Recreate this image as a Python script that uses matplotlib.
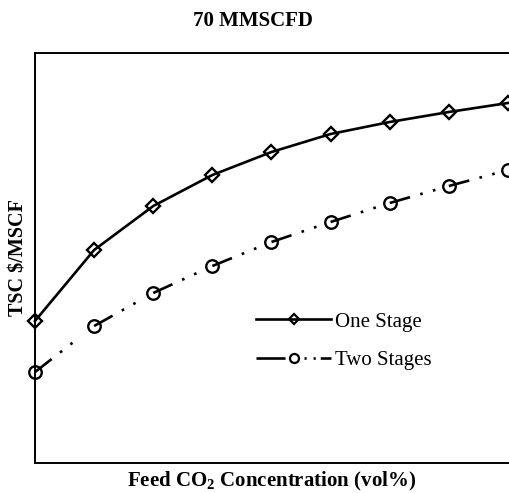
import matplotlib
matplotlib.use("Agg")
import matplotlib.pyplot as plt
from matplotlib.lines import Line2D

plt.rcParams['font.family'] = 'Liberation Serif'
plt.rcParams['mathtext.fontset'] = 'custom'
plt.rcParams['mathtext.rm'] = 'Liberation Serif'
plt.rcParams['mathtext.bf'] = 'Liberation Serif:bold'

# feed CO2 steps (no tick labels in the original) and TSC values (arbitrary units)
feed = [0, 1, 2, 3, 4, 5, 6, 7, 8]
one_stage = [142, 213, 257, 288, 311, 329, 341, 351, 360]
two_stages = [91, 137, 170, 197, 221, 241, 260, 277, 293]

fig = plt.figure(figsize=(5.10, 4.93), dpi=100)
ax = fig.add_axes([35 / 510, 30 / 493, 480 / 510, 410 / 493])

lw = 1.9
ax.plot(feed, one_stage, '-', color='black', lw=lw, marker='D', ms=7.5,
        mfc='none', mew=1.7, clip_on=False, zorder=3)

# dash-dot-dot pattern restarts at every marker, so draw segment by segment
dd = (8, 4, 1, 4, 1, 40)
for i in range(len(feed) - 1):
    ax.plot(feed[i:i + 2], two_stages[i:i + 2], color='black', lw=lw,
            dashes=dd, clip_on=False, zorder=3)
ax.plot(feed, two_stages, 'o', color='black', ms=9, mfc='none', mew=1.7,
        clip_on=False, zorder=4)

ax.set_xlim(0, 8 * 480 / 473)
ax.set_ylim(0, 410)
ax.set_xticks([])
ax.set_yticks([])
for s in ax.spines.values():
    s.set_linewidth(1.4)

fig.text(253 / 510, 1 - 21.5 / 493, '70 MMSCFD', fontsize=15, fontweight='bold',
         ha='center', va='center')
fig.text(272 / 510, 1 - 481 / 493, r'Feed CO$_\mathbf{2}$ Concentration (vol%)',
         fontsize=15, fontweight='bold', ha='center', va='center')
fig.text(18.5 / 510, 1 - 257.5 / 493, r'TSC \$/MSCF', fontsize=14.5,
         fontweight='bold', rotation=90, ha='center', va='center')

h1 = Line2D([], [], color='black', lw=lw, marker='D', ms=5.5, mfc='none', mew=1.6)
h2 = Line2D([], [], color='black', lw=lw, marker='o', ms=6.5, mfc='none', mew=1.6,
            dashes=(11, 7.2, 0.8, 2.65, 0.8, 1.9, 20, 1))
ax.legend([h1, h2], ['One Stage', 'Two Stages'], loc='upper left',
          bbox_to_anchor=(256 / 510, 1 - 312 / 493), bbox_transform=fig.transFigure,
          frameon=False, fontsize=15, handlelength=3.6, handletextpad=0.2,
          labelspacing=0.9, numpoints=1, borderpad=0, borderaxespad=0)

fig.savefig('out.png', dpi=100)
